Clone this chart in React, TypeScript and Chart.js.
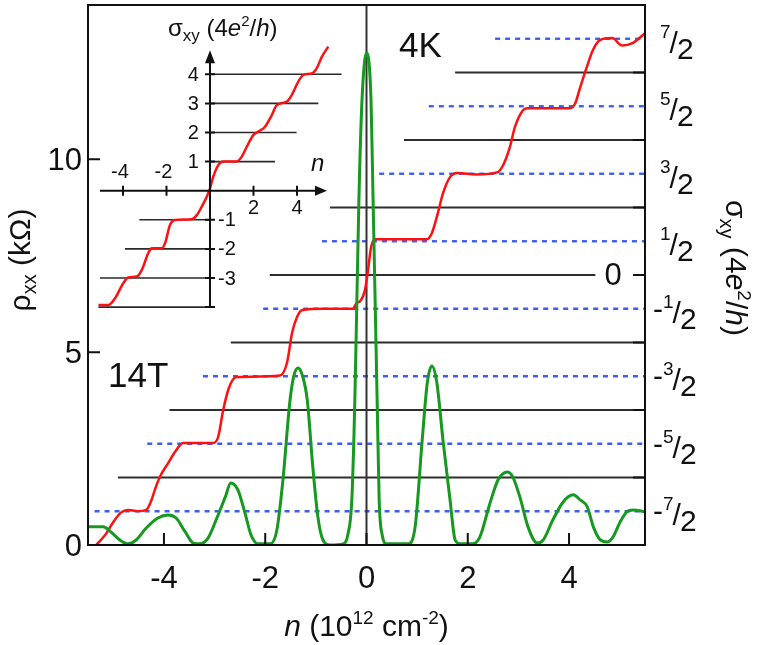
import React, { useEffect, useRef } from 'react';
import { Chart, registerables } from 'chart.js';
Chart.register(...registerables);

// ---------- data ----------
// rho_xx (kOhm) vs n (1e12 cm^-2), green
const rhoN = [-5.5, -5.2, -5.05, -4.87, -4.71, -4.55, -4.35, -4.12, -3.92, -3.76, -3.58, -3.42, -3.29, -3.13, -2.97, -2.79, -2.68, -2.54, -2.4, -2.28, -2.14, -1.9, -1.77, -1.65, -1.51, -1.43, -1.35, -1.27, -1.17, -1.06, -0.96, -0.86, -0.72, -0.46, -0.37, -0.29, -0.23, -0.19, -0.15, -0.09, 0.0, 0.09, 0.13, 0.17, 0.21, 0.25, 0.31, 0.4, 0.82, 0.96, 1.1, 1.2, 1.29, 1.39, 1.51, 1.65, 1.75, 1.85, 2.1, 2.24, 2.44, 2.6, 2.78, 2.89, 3.03, 3.19, 3.37, 3.49, 3.68, 3.88, 4.08, 4.22, 4.36, 4.48, 4.62, 4.76, 4.87, 5.01, 5.14, 5.26, 5.5];
const rhoV = [0.47, 0.47, 0.34, 0.13, 0.03, 0.13, 0.44, 0.7, 0.78, 0.7, 0.34, 0.05, 0.03, 0.18, 0.65, 1.24, 1.61, 1.43, 0.83, 0.26, 0.03, 0.03, 0.39, 1.69, 3.76, 4.41, 4.59, 4.41, 3.76, 2.02, 0.73, 0.13, 0.0, 0.03, 0.26, 1.17, 3.76, 6.35, 8.94, 11.5, 12.76, 11.5, 8.94, 6.35, 3.76, 1.17, 0.26, 0.03, 0.03, 0.47, 2.72, 4.2, 4.64, 4.2, 2.72, 1.17, 0.13, 0.03, 0.03, 0.21, 1.09, 1.69, 1.89, 1.76, 1.24, 0.47, 0.05, 0.13, 0.65, 1.11, 1.3, 1.17, 0.99, 0.47, 0.13, 0.08, 0.21, 0.6, 0.86, 0.91, 0.86];
// sigma_xy (4e^2/h) vs n, red (right axis)
const sigN = [-5.34, -5.16, -5.01, -4.85, -4.71, -4.51, -4.35, -4.26, -4.16, -4.06, -3.92, -3.78, -3.62, -3.03, -2.93, -2.83, -2.73, -2.64, -2.56, -1.71, -1.57, -1.47, -1.37, -1.27, -0.86, -0.27, -0.19, -0.13, -0.03, 0.03, 0.09, 0.17, 0.6, 1.19, 1.29, 1.41, 1.51, 1.65, 1.79, 2.18, 2.58, 2.7, 2.83, 2.93, 3.09, 3.17, 3.62, 4.02, 4.12, 4.22, 4.35, 4.47, 4.61, 4.85, 5.05, 5.24, 5.5];
const sigV = [-4.0, -3.85, -3.67, -3.52, -3.48, -3.5, -3.48, -3.36, -3.14, -2.96, -2.79, -2.62, -2.49, -2.49, -2.4, -2.0, -1.7, -1.55, -1.51, -1.49, -1.3, -0.86, -0.62, -0.52, -0.5, -0.5, -0.41, -0.39, -0.22, 0.07, 0.41, 0.53, 0.53, 0.53, 0.62, 0.92, 1.21, 1.45, 1.51, 1.49, 1.52, 1.63, 1.89, 2.19, 2.44, 2.47, 2.47, 2.47, 2.54, 2.78, 3.08, 3.33, 3.48, 3.51, 3.4, 3.43, 3.58];
// inset: sigma_xy (4e^2/h) vs n
const insetN = [-5.13, -4.68, -4.37, -3.99, -3.76, -3.37, -3.14, -2.84, -2.68, -2.22, -2.07, -1.84, -1.61, -0.84, -0.61, -0.38, -0.15, 0.0, 0.15, 0.38, 0.61, 1.23, 1.46, 1.69, 1.99, 2.22, 2.53, 2.84, 3.07, 3.53, 3.76, 4.06, 4.29, 4.68, 4.91, 5.14, 5.44];
const insetS = [-3.93, -3.93, -3.7, -3.18, -2.98, -2.95, -2.73, -2.15, -1.98, -1.98, -1.81, -1.18, -1.01, -0.98, -0.84, -0.55, -0.21, 0.08, 0.48, 0.88, 1.0, 1.0, 1.17, 1.51, 1.91, 2.03, 2.2, 2.6, 2.94, 3.06, 3.29, 3.75, 3.98, 4.03, 4.21, 4.6, 4.95];

// guide levels (sigma units) and their n-extent
const solidLevels = [3, 2, 1, 0, -1, -2, -3];
const solidStart = [1.75, 0.74, -0.72, -1.91, -2.68, -3.89, -4.91];
const solidEnd = [5.5, 5.5, 5.5, 4.52, 5.5, 5.5, 5.5];
const dashedLevels = [3.5, 2.5, 1.5, 0.5, -0.5, -1.5, -2.5, -3.5];
const dashedStart = [2.54, 1.23, 0.25, -0.88, -2.04, -3.23, -4.33, -5.37];
const dashedEnd = [5.5, 5.5, 5.5, 5.5, 5.5, 5.5, 5.5, 5.5];

// inset plateau reference lines
const insetLevels = [4, 3, 2, 1, -1, -2, -3, -4];
const insetFrom = [0, 0, 0, 0, -3.25, -3.91, -5.06, -5.13];
const insetTo = [6.05, 4.98, 3.98, 2.99, 0, 0, 0, 0.08];

// ticks
const xTicks = [-4, -2, 0, 2, 4];
const yTicks = [0, 5, 10];
const sigmaIntTicks = [-3, -2, -1, 0, 1, 2, 3];
const sigmaHalfLabels = [3.5, 2.5, 1.5, 0.5, -0.5, -1.5, -2.5, -3.5];
const insetXTicks = [-4, -2, 2, 4];
const insetYTicks = [4, 3, 2, 1, -1, -2, -3, -4];
const insetYLabels = [4, 3, 2, 1, -1, -2, -3];

// ---------- drawing helpers ----------
const FAM = '"Liberation Sans", Arial, Helvetica, sans-serif';
const fnt = (s: number, i = false) => `${i ? 'italic ' : ''}${s}px ${FAM}`;
type Seg = { t: string; s: number; i?: boolean; dy?: number };
function richW(ctx: CanvasRenderingContext2D, segs: Seg[]) {
  let w = 0;
  for (const g of segs) { ctx.font = fnt(g.s, g.i); w += ctx.measureText(g.t).width; }
  return w;
}
function drawRich(ctx: CanvasRenderingContext2D, segs: Seg[], x: number, y: number, align: 'left' | 'center' | 'right') {
  const w = richW(ctx, segs);
  let cx = align === 'left' ? x : align === 'center' ? x - w / 2 : x - w;
  ctx.textAlign = 'left';
  ctx.textBaseline = 'alphabetic';
  for (const g of segs) {
    ctx.font = fnt(g.s, g.i);
    ctx.fillText(g.t, cx, y + (g.dy || 0));
    cx += ctx.measureText(g.t).width;
  }
}

const decor = {
  id: 'decor',
  afterDatasetsDraw(chart: any) {
    const { ctx, chartArea: a, scales } = chart;
    const x = scales.x, y = scales.y, y2 = scales.y2, xi = scales.xi, yi = scales.yi;
    const INK = '#111';
    ctx.save();
    // frame
    ctx.strokeStyle = INK;
    ctx.lineWidth = 2;
    ctx.strokeRect(a.left, a.top, a.right - a.left, a.bottom - a.top);
    // inner ticks
    ctx.beginPath();
    xTicks.forEach((v) => { const p = x.getPixelForValue(v); ctx.moveTo(p, a.bottom); ctx.lineTo(p, a.bottom - 12); });
    yTicks.forEach((v) => { const p = y.getPixelForValue(v); ctx.moveTo(a.left, p); ctx.lineTo(a.left + 12, p); });
    sigmaIntTicks.forEach((v) => { const p = y2.getPixelForValue(v); ctx.moveTo(a.right, p); ctx.lineTo(a.right - 12, p); });
    ctx.stroke();

    ctx.fillStyle = INK;
    // x tick labels
    ctx.font = fnt(31);
    ctx.textAlign = 'center';
    ctx.textBaseline = 'middle';
    xTicks.forEach((v) => ctx.fillText(String(v), x.getPixelForValue(v), a.bottom + 34));
    // y tick labels
    ctx.textAlign = 'right';
    yTicks.forEach((v) => ctx.fillText(String(v), a.left - 6, y.getPixelForValue(v) + 2));
    // "0" label inside at sigma = 0
    ctx.textAlign = 'center';
    ctx.fillText('0', x.getPixelForValue(4.87), y2.getPixelForValue(0) + 1);

    // right fraction labels
    sigmaHalfLabels.forEach((v) => {
      const p = y2.getPixelForValue(v);
      const num = String(Math.round(Math.abs(v) * 2));
      let cx = a.right + 15;
      ctx.textAlign = 'left';
      ctx.textBaseline = 'alphabetic';
      if (v < 0) {
        ctx.font = fnt(30);
        ctx.fillText('-', a.right + 8, p + 10);
        cx = a.right + 18;
      }
      ctx.font = fnt(19);
      ctx.fillText(num, cx, p - 1);
      cx += ctx.measureText(num).width;
      ctx.font = fnt(30);
      ctx.fillText('/', cx - 1, p + 14);
      cx += ctx.measureText('/').width - 2;
      ctx.fillText('2', cx, p + 20);
    });

    // axis titles
    drawRich(ctx, [
      { t: 'n', s: 30, i: true }, { t: ' (10', s: 30 }, { t: '12', s: 19, dy: -12 },
      { t: ' cm', s: 30 }, { t: '-2', s: 19, dy: -12 }, { t: ')', s: 30 },
    ], x.getPixelForValue(0), 636, 'center');

    ctx.save();
    ctx.translate(30, 260);
    ctx.rotate(-Math.PI / 2);
    drawRich(ctx, [{ t: 'ρ', s: 30 }, { t: 'xx', s: 20, dy: 6 }, { t: ' (kΩ)', s: 30 }], 0, 0, 'center');
    ctx.restore();

    ctx.save();
    ctx.translate(726, 268);
    ctx.rotate(Math.PI / 2);
    drawRich(ctx, [
      { t: 'σ', s: 30 }, { t: 'xy', s: 20, dy: 6 }, { t: ' (4', s: 30 }, { t: 'e', s: 30, i: true },
      { t: '2', s: 19, dy: -12 }, { t: '/', s: 30 }, { t: 'h', s: 30, i: true }, { t: ')', s: 30 },
    ], 0, 0, 'center');
    ctx.restore();

    // annotations
    ctx.font = fnt(35);
    ctx.textAlign = 'left';
    ctx.textBaseline = 'alphabetic';
    ctx.fillText('4K', 399, 57);
    ctx.fillText('14T', 108, 387);

    // ---------- inset axes ----------
    const ox = xi.getPixelForValue(0), oy = yi.getPixelForValue(0);
    ctx.strokeStyle = INK;
    ctx.lineWidth = 2;
    ctx.beginPath();
    const xL = xi.getPixelForValue(-5.06), xT = xi.getPixelForValue(5.38);
    const yB = yi.getPixelForValue(-4), yT = yi.getPixelForValue(4.83);
    ctx.moveTo(xL, oy); ctx.lineTo(xT - 6, oy);
    ctx.moveTo(ox, yB); ctx.lineTo(ox, yT + 8);
    insetXTicks.forEach((v) => { const p = xi.getPixelForValue(v); ctx.moveTo(p, oy - 5); ctx.lineTo(p, oy + 5); });
    insetYTicks.forEach((v) => { const p = yi.getPixelForValue(v); ctx.moveTo(ox - 5, p); ctx.lineTo(ox + 5, p); });
    ctx.stroke();
    ctx.fillStyle = INK;
    ctx.beginPath();
    ctx.moveTo(xT, oy); ctx.lineTo(xT - 12, oy - 5); ctx.lineTo(xT - 12, oy + 5); ctx.closePath();
    ctx.moveTo(ox, yT); ctx.lineTo(ox - 5, yT + 13); ctx.lineTo(ox + 5, yT + 13); ctx.closePath();
    ctx.fill();

    ctx.font = fnt(20);
    ctx.textBaseline = 'middle';
    insetYLabels.forEach((v) => {
      const p = yi.getPixelForValue(v);
      if (v > 0) { ctx.textAlign = 'right'; ctx.fillText(String(v), ox - 11, p + 1); }
      else { ctx.textAlign = 'left'; ctx.fillText(String(v), ox + 8, p + 1); }
    });
    ctx.textAlign = 'center';
    insetXTicks.forEach((v) => {
      const p = xi.getPixelForValue(v);
      if (v < 0) ctx.fillText(String(v), p - 3, oy - 18);
      else ctx.fillText(String(v), p, oy + 18);
    });
    ctx.font = fnt(24, true);
    ctx.fillText('n', xi.getPixelForValue(4.95), oy - 26);
    drawRich(ctx, [
      { t: 'σ', s: 24 }, { t: 'xy', s: 17, dy: 5 }, { t: ' (4', s: 24 }, { t: 'e', s: 24, i: true },
      { t: '2', s: 15, dy: -10 }, { t: '/', s: 24 }, { t: 'h', s: 24, i: true }, { t: ')', s: 24 },
    ], 168, 36, 'left');

    ctx.restore();
  },
};

const pts = (xs: number[], ys: number[]) => xs.map((v, i) => ({ x: v, y: ys[i] }));

export default function App() {
  const ref = useRef<HTMLCanvasElement>(null);
  useEffect(() => {
    if (!ref.current) return;
    const guideSolid = solidLevels.map((lv, i) => ({
      data: [{ x: solidStart[i], y: lv }, { x: solidEnd[i], y: lv }],
      xAxisID: 'x', yAxisID: 'y2', borderColor: '#2e2e2e', borderWidth: 2, pointRadius: 0,
    }));
    const guideDash = dashedLevels.map((lv, i) => ({
      data: [{ x: dashedStart[i], y: lv }, { x: dashedEnd[i], y: lv }],
      xAxisID: 'x', yAxisID: 'y2', borderColor: '#3d5ef0', borderWidth: 2.4, borderDash: [5, 5], pointRadius: 0,
    }));
    const insetLines = insetLevels.map((lv, i) => ({
      data: [{ x: insetFrom[i], y: lv }, { x: insetTo[i], y: lv }],
      xAxisID: 'xi', yAxisID: 'yi', borderColor: '#2a2a2a', borderWidth: 1.6, pointRadius: 0,
    }));
    const chart = new Chart(ref.current, {
      type: 'line',
      data: {
        datasets: [
          { data: pts(rhoN, rhoV), xAxisID: 'x', yAxisID: 'y', borderColor: '#15991f', borderWidth: 3, pointRadius: 0, cubicInterpolationMode: 'monotone' },
          { data: pts(sigN, sigV), xAxisID: 'x', yAxisID: 'y2', borderColor: '#ff1010', borderWidth: 2.5, pointRadius: 0, cubicInterpolationMode: 'monotone' },
          { data: pts(insetN, insetS), xAxisID: 'xi', yAxisID: 'yi', borderColor: '#ff1010', borderWidth: 2.5, pointRadius: 0, cubicInterpolationMode: 'monotone' },
          { data: [{ x: 0, y: 0 }, { x: 0, y: 14 }], xAxisID: 'x', yAxisID: 'y', borderColor: '#333', borderWidth: 2, pointRadius: 0 },
          ...guideSolid,
          ...guideDash,
          ...insetLines,
        ] as any,
      },
      options: {
        animation: false,
        responsive: false,
        devicePixelRatio: 1,
        layout: { padding: { left: 88, top: 5, right: 117, bottom: 100 } },
        plugins: { legend: { display: false }, tooltip: { enabled: false } },
        scales: {
          x: { type: 'linear', min: -5.5, max: 5.5, display: false },
          y: { type: 'linear', min: 0, max: 14, display: false },
          y2: { type: 'linear', min: -4, max: 4, display: false, position: 'right' },
          xi: { type: 'linear', min: -5.609, max: 20.0, display: false },
          yi: { type: 'linear', min: -12.175, max: 6.381, display: false },
        },
      } as any,
      plugins: [decor],
    });
    return () => chart.destroy();
  }, []);
  return (
    <div style={{ position: 'absolute', left: 0, top: 0, width: 762, height: 645, background: '#fff' }}>
      <canvas ref={ref} width={762} height={645} style={{ display: 'block' }} />
    </div>
  );
}
